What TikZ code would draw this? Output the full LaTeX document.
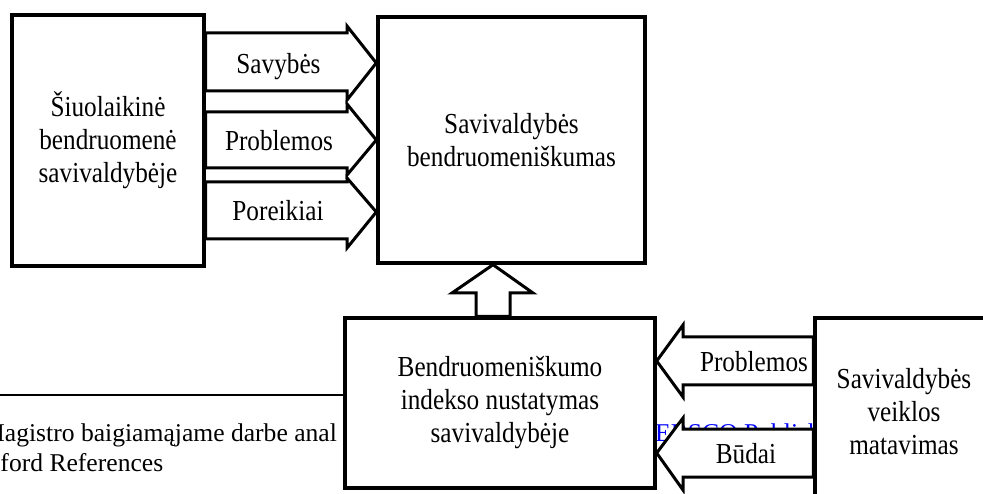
\documentclass[tikz,border=0pt]{standalone}
\usepackage{fontspec}
\setmainfont{Liberation Serif}
\newfontfamily\diagfont[FakeStretch=0.87]{Liberation Serif}
\definecolor{linkblue}{RGB}{0,0,255}
\begin{document}
\begin{tikzpicture}[x=1pt,y=-1pt,
  box/.style={draw,line width=3.4pt,fill=white,inner sep=0pt,align=center,
    font=\diagfont\fontsize{29}{33}\selectfont},
  barrow/.style={draw,line width=3pt,fill=white,line join=miter},
  lab/.style={inner sep=0pt,anchor=base,font=\diagfont\fontsize{29}{33}\selectfont},
  foot/.style={inner sep=0pt,anchor=base west,font=\fontsize{25.6}{30}\selectfont}]
\useasboundingbox (0,0) rectangle (983,494);
\clip (0,0) rectangle (983,494);
% footnote of the page behind the figure
\coordinate (fa) at (0,395);
\coordinate (fb) at (345,395);
\draw[line width=1.5pt] (fa) -- (fb);
\node[foot] (f1) at (-18,441) {Magistro baigiamąjame darbe anal};
\node[foot] (f2) at (-31,471) {Oxford References};
\node[foot,text=linkblue] (f3) at (655,441) {EBSCO Publishing};
% boxes
\node[box,minimum width=192pt,minimum height=251pt] (L) at (108,140.5)
  {Šiuolaikinė\\bendruomenė\\savivaldybėje};
\node[box,minimum width=267pt,minimum height=246pt] (C) at (511.5,140)
  {Savivaldybės\\bendruomeniškumas};
\node[box,minimum width=310pt,minimum height=170pt] (B) at (500,403)
  {Bendruomeniškumo\\indekso nustatymas\\savivaldybėje};
\node[box,minimum width=178pt,minimum height=188pt] (R) at (904,412)
  {Savivaldybės\\veiklos\\matavimas};
% arrows from L to C
\foreach \t/\b/\wt/\wb/\m [count=\i] in {33/91/26/100/63, 112/168/104/175/140, 182/239/178/248/212}{
  \draw[barrow] (L.east |- 0,\t) -- (347,\t) -- (347,\wt) -- (C.west |- 0,\m)
    -- (347,\wb) -- (347,\b) -- (L.east |- 0,\b) -- cycle;
}
\node[lab] (l1) at (278.5,74) {Savybės};
\node[lab] (l2) at (279,151) {Problemos};
\node[lab] (l3) at (278,221) {Poreikiai};
% arrow from B up to C
\draw[barrow] (B.north -| 476,0) -- (476,293) -- (452,293) -- (C.south -| 493,0)
  -- (533,293) -- (510,293) -- (B.north -| 510,0) -- cycle;
% arrows from R to B
\foreach \t/\b/\wt/\wb/\m in {337/385/325/397/361, 429/477/418/490/453}{
  \draw[barrow] (R.west |- 0,\t) -- (683,\t) -- (683,\wt) -- (B.east |- 0,\m)
    -- (683,\wb) -- (683,\b) -- (R.west |- 0,\b) -- cycle;
}
\node[lab] (r1) at (754,372) {Problemos};
\node[lab] (r2) at (746,463) {Būdai};
\end{tikzpicture}
\end{document}
